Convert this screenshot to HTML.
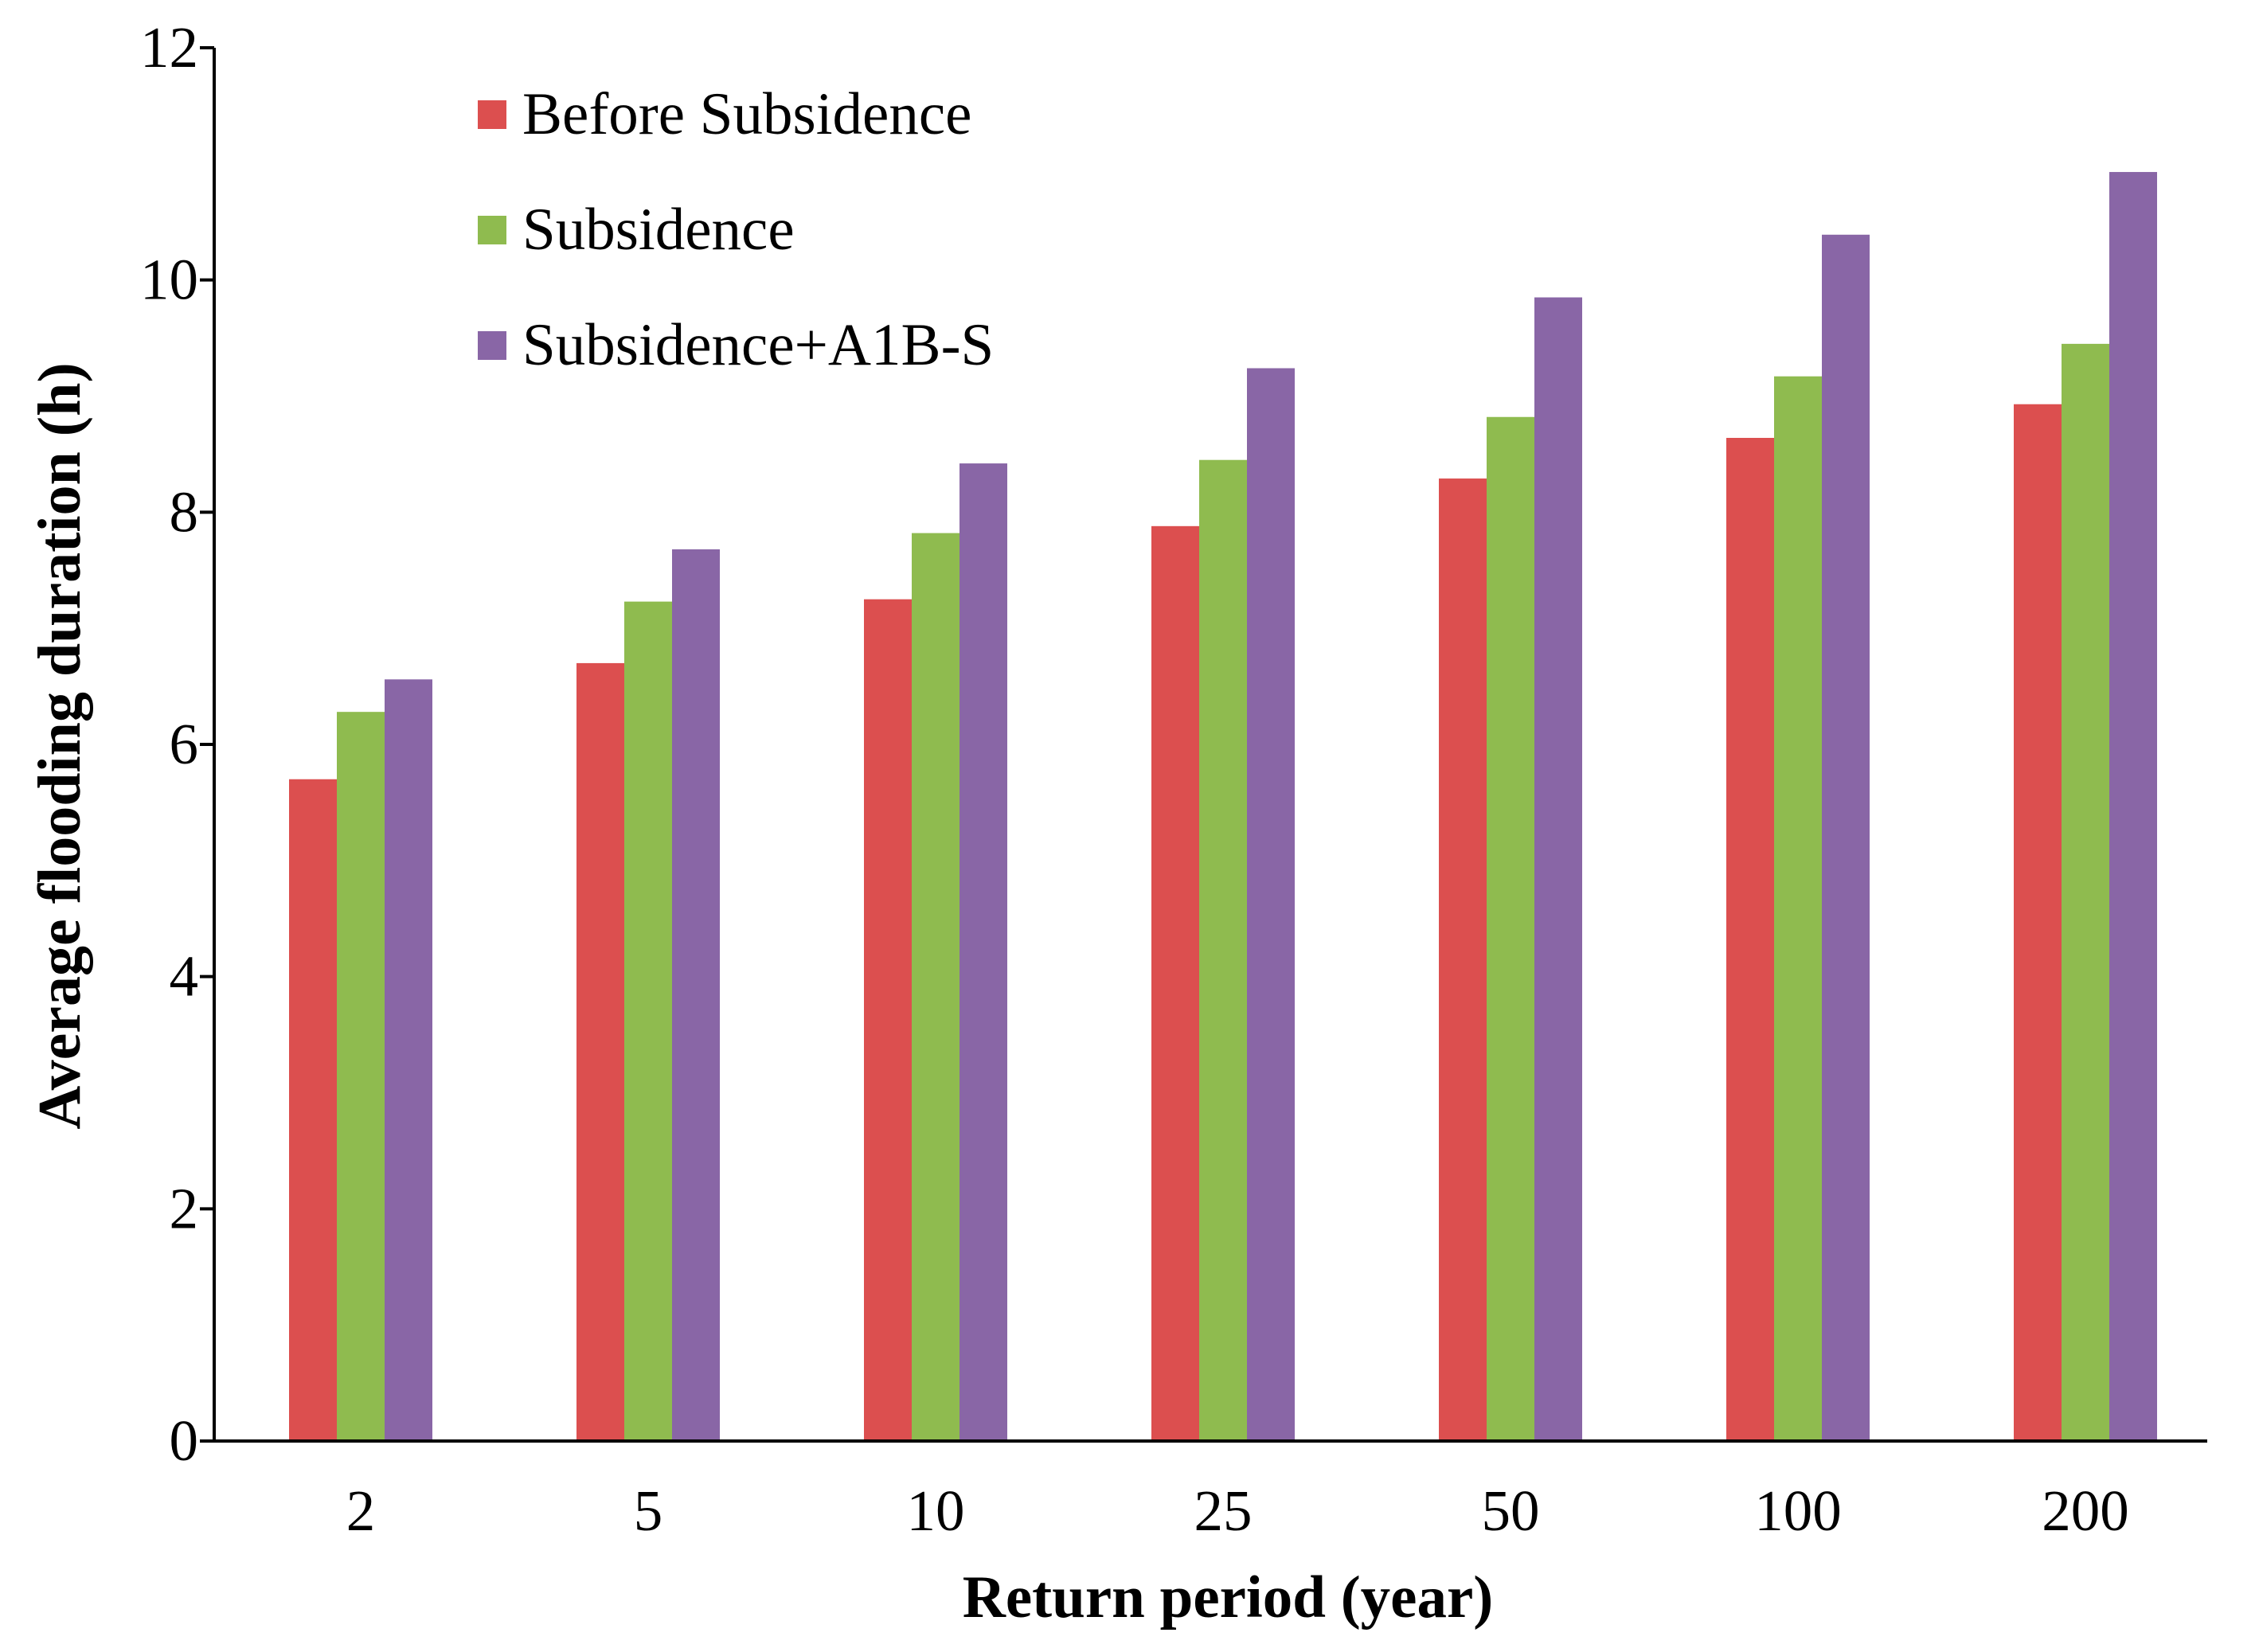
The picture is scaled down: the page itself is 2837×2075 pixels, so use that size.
<!DOCTYPE html>
<html><head><meta charset="utf-8"><style>
html,body{margin:0;padding:0;background:#fff;}
svg text{font-family:"Liberation Serif",serif;}
</style></head><body>
<svg id="chart" width="2837" height="2070" viewBox="0 0 2837 2070" xmlns="http://www.w3.org/2000/svg">
<rect width="2837" height="2070" fill="#fff"/>
<g id="bars"></g>
<g id="axes"></g>
</svg>
<script>
const categories = ["2","5","10","25","50","100","200"];
const beforeSubsidence = [5.7,6.7,7.25,7.88,8.29,8.64,8.93];
const subsidence = [6.28,7.23,7.82,8.45,8.82,9.17,9.45];
const subsidenceA1B = [6.56,7.68,8.42,9.24,9.85,10.39,10.93];
const yTicks = [0,2,4,6,8,10,12];
const seriesNames = ["Before Subsidence","Subsidence","Subsidence+A1B-S"];
const colors = ["#dc4f4f","#8fbb4f","#8966a6"];

const NS="http://www.w3.org/2000/svg";
const barsG=document.getElementById('bars');
const axesG=document.getElementById('axes');
const x0=269, x1=2772, y0=1810, yTop=60, yMax=12;
const step=361, firstC=453, bw=60;
function yScale(v){return y0-(v/yMax)*(y0-yTop);}
function xCenter(i){return firstC+i*step;}
function mk(tag,attrs,parent){const e=document.createElementNS(NS,tag);for(const k in attrs)e.setAttribute(k,attrs[k]);parent.appendChild(e);return e;}

const series=[beforeSubsidence,subsidence,subsidenceA1B];
const snames=["before-subsidence","subsidence","subsidence-a1b-s"];
series.forEach((vals,s)=>{
  vals.forEach((v,i)=>{
    const r=mk('rect',{x:xCenter(i)+(s-1.5)*bw,y:yScale(v),width:bw,height:y0-yScale(v),fill:colors[s]},barsG);
    
    
  });
});

const ya=mk('line',{x1:x0,y1:yTop,x2:x0,y2:y0,stroke:'#000','stroke-width':4},axesG);


const xa=mk('line',{x1:x0-18,y1:y0,x2:x1,y2:y0,stroke:'#000','stroke-width':4},axesG);


yTicks.forEach(t=>{
  const y=yScale(t);
  const l=mk('line',{x1:x0-18,y1:y,x2:x0,y2:y,stroke:'#000','stroke-width':4},axesG);
  
  
  const tx=mk('text',{x:x0-20,y:y+24,'text-anchor':'end','font-size':73},axesG);
  tx.textContent=t;
  
  
});
categories.forEach((c,i)=>{
  const tx=mk('text',{x:xCenter(i),y:1922,'text-anchor':'middle','font-size':73},axesG);
  tx.textContent=c;
  
  
});
const xt=mk('text',{x:1542,y:2031,'text-anchor':'middle','font-size':75,'font-weight':'bold'},axesG);
xt.textContent='Return period (year)';


const yt=mk('text',{x:0,y:0,'text-anchor':'middle','font-size':76,'font-weight':'bold',transform:'translate(100,937) rotate(-90)'},axesG);
yt.textContent='Average flooding duration (h)';



seriesNames.forEach((n,s)=>{
  const cy=144+s*145;
  const g=mk('g',{},axesG);
  
  
  mk('rect',{x:600,y:cy-18,width:36,height:36,fill:colors[s]},g);
  const t=mk('text',{x:656,y:cy+24,'font-size':75},g);
  t.textContent=n;
});
</script>
</body></html>
